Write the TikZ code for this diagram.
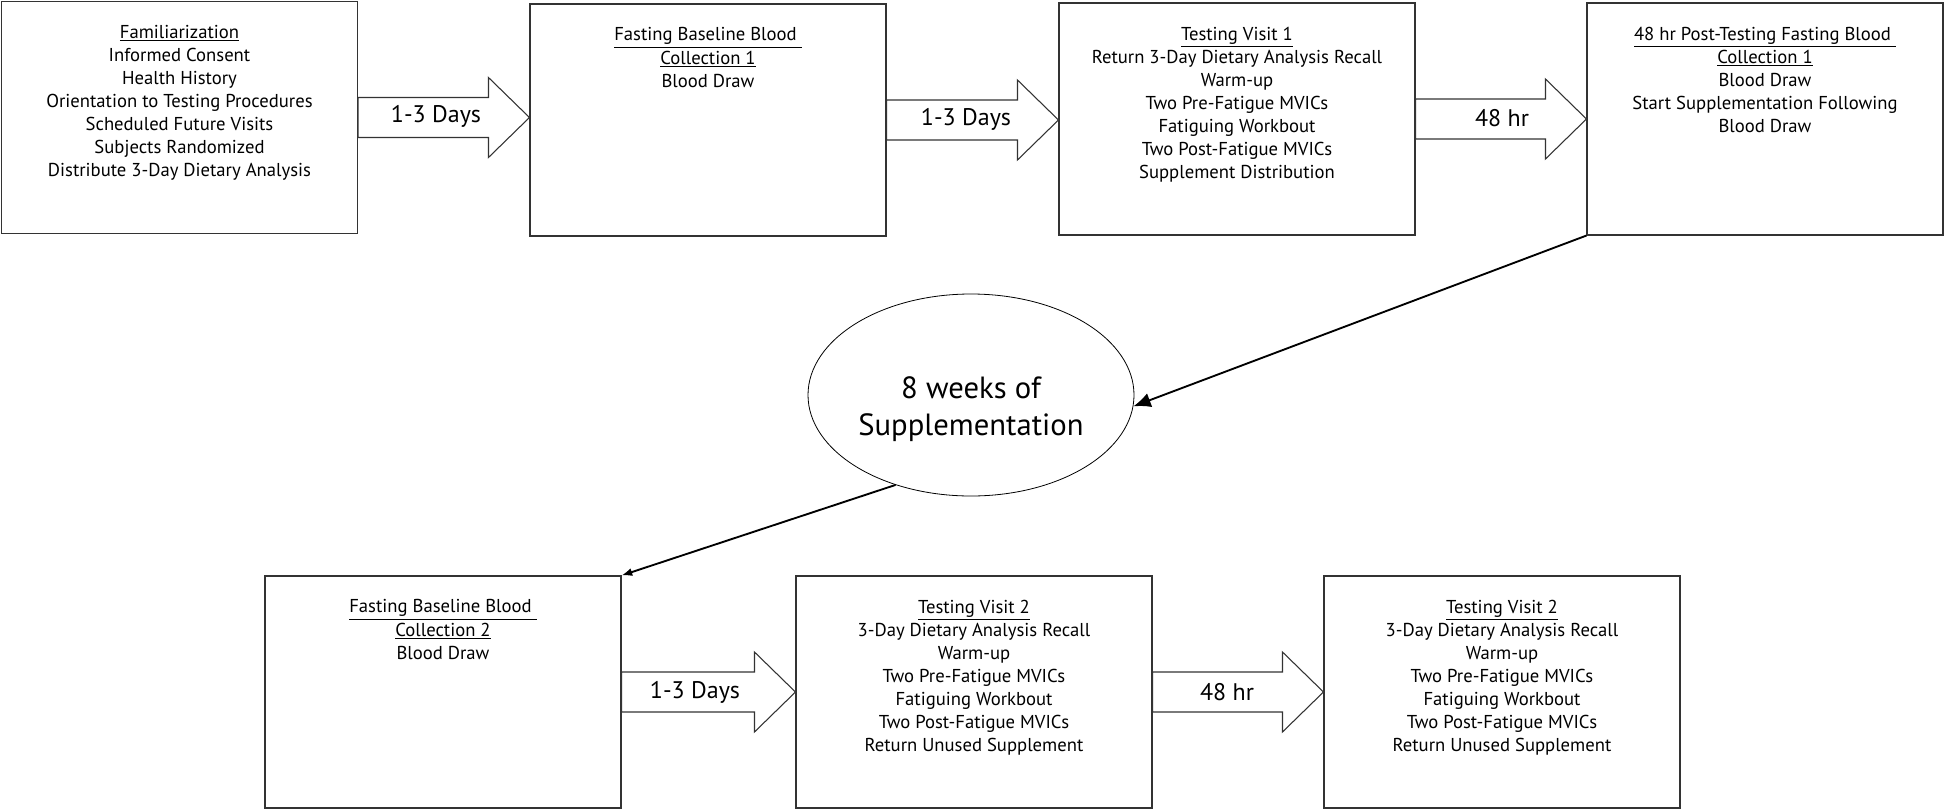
\documentclass[tikz,border=0pt]{standalone}
\usepackage{fontspec}
\setmainfont{PT Sans}
\usetikzlibrary{shapes.geometric,calc,arrows.meta}

\begin{document}
\begin{tikzpicture}[x=0.75pt,y=-0.75pt]
\tikzstyle{box}=[rectangle,draw=black!80,line width=0.8pt,minimum width=267pt,minimum height=174pt,inner sep=0pt]
\tikzstyle{txt}=[anchor=north,align=center,inner sep=0pt,font=\fontsize{14}{17.3}\selectfont]
\tikzstyle{days}=[inner sep=0pt,font=\fontsize{18}{20}\selectfont]
\tikzstyle{fat}=[draw=black!80,line width=0.8pt,fill=white,
  to path={let \p1=(\tikztostart), \p2=(\tikztotarget) in
    (\x1,\y1+15pt) -- (\x2-30.75pt,\y1+15pt) -- (\x2-30.75pt,\y1+30pt) -- (\x2,\y1)
    -- (\x2-30.75pt,\y1-30pt) -- (\x2-30.75pt,\y1-15pt) -- (\x1,\y1-15pt) -- cycle}]
\useasboundingbox (0,0) rectangle (1946,811);
\node[box] (B_1) at (179.5,117.5) {};
\node[box] (B_2) at (708,120) {};
\node[box] (B_3) at (1237,119) {};
\node[box] (B_4) at (1765,119) {};
\node[box] (B_5) at (443,692) {};
\node[box] (B_6) at (974,692) {};
\node[box] (B_7) at (1502,692) {};
\node[ellipse,draw,line width=0.6pt,minimum width=244.5pt,minimum height=151.5pt,inner sep=0pt] (E) at (971,395) {};
\node[align=center,inner sep=0pt,font=\fontsize{23}{28}\selectfont] (E_t) at (971,409) {8 weeks of\\Supplementation};
% texts in the boxes
\node[txt] (T_1) at ($(B_1.north)+(0,24)$) {\underline{Familiarization}\\Informed Consent\\Health History\\Orientation to Testing Procedures\\Scheduled Future Visits\\Subjects Randomized\\Distribute 3-Day Dietary Analysis};
\node[txt] (T_2) at ($(B_2.north)+(0,24)$) {\underline{Fasting Baseline Blood\ }\\\underline{Collection 1}\\Blood Draw};
\node[txt] (T_3) at ($(B_3.north)+(0,24)$) {\underline{Testing Visit 1}\\Return 3-Day Dietary Analysis Recall\\Warm-up\\Two Pre-Fatigue MVICs\\Fatiguing Workbout\\Two Post-Fatigue MVICs\\Supplement Distribution};
\node[txt] (T_4) at ($(B_4.north)+(0,24)$) {\underline{48 hr Post-Testing Fasting Blood\ }\\\underline{Collection 1}\\Blood Draw\\Start Supplementation Following\\Blood Draw};
\node[txt] (T_5) at ($(B_5.north)+(0,24)$) {\underline{Fasting Baseline Blood\ }\\\underline{Collection 2}\\Blood Draw};
\node[txt] (T_6) at ($(B_6.north)+(0,24)$) {\underline{Testing Visit 2}\\3-Day Dietary Analysis Recall\\Warm-up\\Two Pre-Fatigue MVICs\\Fatiguing Workbout\\Two Post-Fatigue MVICs\\Return Unused Supplement};
\node[txt] (T_7) at ($(B_7.north)+(0,24)$) {\underline{Testing Visit 2}\\3-Day Dietary Analysis Recall\\Warm-up\\Two Pre-Fatigue MVICs\\Fatiguing Workbout\\Two Post-Fatigue MVICs\\Return Unused Supplement};
% block arrows
\draw[fat] (B_1.east) to (B_2.west);
\draw[fat] (B_2.east) to (B_3.west);
\draw[fat] (B_3.east) to (B_4.west);
\draw[fat] (B_5.east) to (B_6.west);
\draw[fat] (B_6.east) to (B_7.west);
\node[days] (D_1) at (436,116) {1-3 Days};
\node[days] (D_2) at (966,119) {1-3 Days};
\node[days] (D_3) at (1502,118) {48 hr};
\node[days] (D_4) at (695,692) {1-3 Days};
\node[days] (D_5) at (1227,692) {48 hr};
% thin arrows
\draw[-{Latex[length=13pt,width=11pt]},line width=1.4pt] (B_4.south west) -- (E.-4);
\draw[-{Latex[length=8pt,width=6pt]},line width=1.4pt] (E.230) -- (B_5.north east);
\end{tikzpicture}
\end{document}
